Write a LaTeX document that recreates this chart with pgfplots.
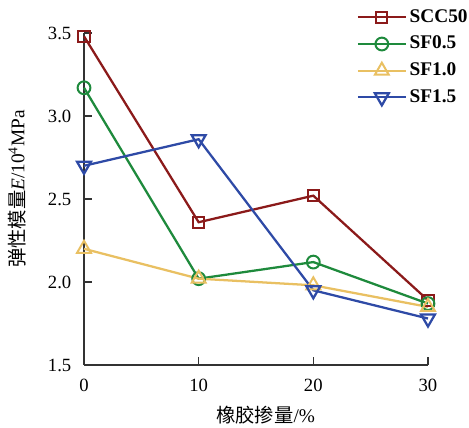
\documentclass[border=0pt]{standalone}
\usepackage{fontspec}
\setmainfont{Liberation Serif}
\newfontfamily\cjk{Noto Sans CJK SC}
\usepackage{pgfplots}
\pgfplotsset{compat=1.18}
\definecolor{cSCC}{HTML}{8B1A1A}
\definecolor{cSFa}{HTML}{1E8A3C}
\definecolor{cSFb}{HTML}{E9C062}
\definecolor{cSFc}{HTML}{2E4AA6}
\definecolor{axgray}{HTML}{333333}
\begin{document}
\begin{tikzpicture}
\useasboundingbox (-63pt,-47.25pt) rectangle (288.75pt,273.75pt);
\begin{axis}[
  at={(0,0)}, anchor=south west,
  scale only axis, width=258pt, height=249pt,
  xmin=0, xmax=30, ymin=1.5, ymax=3.5,
  axis lines=left, axis line style={-, draw=axgray, line width=0.9pt},
  tick align=inside, major tick length=6pt,
  tick style={draw=axgray, line width=0.9pt},
  xtick={0,10,20,30}, ytick={1.5,2.0,2.5,3.0,3.5},
  yticklabel style={/pgf/number format/fixed, /pgf/number format/fixed zerofill, /pgf/number format/precision=1},
  /pgf/number format/assume math mode=true,
  ticklabel style={font=\fontsize{14pt}{16pt}\selectfont, text=black},
  xticklabel style={yshift=-7pt},
  yticklabel style={xshift=-6pt},
  clip=false,
  xlabel={{\cjk 橡胶掺量}/\%},
  ylabel={{\cjk 弹性模量}\textit{E}/10\textsuperscript{4}MPa},
  label style={font=\fontsize{14.5pt}{16pt}\selectfont},
  xlabel style={at={(axis description cs:0.528,-0.151)}, anchor=center},
  ylabel style={at={(axis description cs:-0.195,0.53)}, anchor=center},
  legend style={at={(axis description cs:0.792,1.076)}, anchor=north west,
    draw=none, fill=none, inner sep=0pt, row sep=6pt, column sep=0pt,
    font=\bfseries\fontsize{14.5pt}{16pt}\selectfont,
    nodes={inner ysep=0pt, inner xsep=2pt, text height=10.5pt, text depth=3.5pt}},
  legend cell align=left,
  legend image code/.code={\draw[mark repeat=2,mark phase=2] plot coordinates {(0pt,0pt) (18pt,0pt) (36pt,0pt)};},
  every axis plot/.append style={line width=1.7pt, mark options={solid, line width=1.5pt, fill=white}},
]
\addplot[color=cSCC, mark=square, mark size=4.2pt] coordinates {(0,3.48) (10,2.36) (20,2.52) (30,1.89)};
\addlegendentry{SCC50}
\addplot[color=cSFa, mark=o, mark size=4.8pt] coordinates {(0,3.17) (10,2.02) (20,2.12) (30,1.87)};
\addlegendentry{SF0.5}
\addplot[color=cSFb, mark=triangle, mark size=6pt] coordinates {(0,2.20) (10,2.02) (20,1.98) (30,1.85)};
\addlegendentry{SF1.0}
\addplot[color=cSFc, mark=triangle, mark size=6pt, mark options={rotate=180}] coordinates {(0,2.70) (10,2.86) (20,1.95) (30,1.78)};
\addlegendentry{SF1.5}
\end{axis}
\end{tikzpicture}
\end{document}
